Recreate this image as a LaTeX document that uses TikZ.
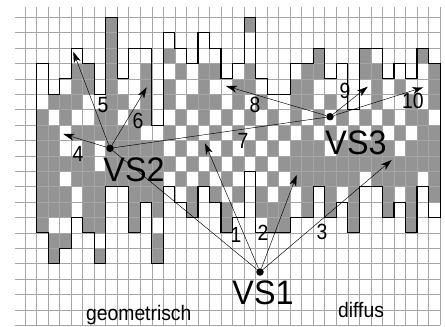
\documentclass[tikz,border=0pt]{standalone}
\usepackage{fontspec}
\setmainfont{Liberation Sans}
\usetikzlibrary{arrows.meta}
\begin{document}
\begin{tikzpicture}[x=1pt,y=-1pt,
  gridline/.style={draw=black!35, line width=0.6pt},
  outline/.style={draw=black, line width=1.1pt, line join=miter},
  cellfill/.style={fill=black!42},
  ray/.style={draw=black, line width=0.45pt, -{Stealth[length=11pt,width=7pt,inset=3pt]}},
  plainray/.style={draw=black, line width=0.45pt},
  src/.style={circle, fill=black, inner sep=0pt, minimum size=7.5pt},
  num/.style={font=\fontsize{22}{22}\selectfont, inner sep=0pt, xscale=0.88},
  vslabel/.style={font=\fontsize{34}{34}\selectfont, inner sep=0pt, xscale=0.95},
  word/.style={font=\fontsize{21}{21}\selectfont, inner sep=0pt, xscale=0.92}]
\useasboundingbox (0,0) rectangle (445,327);
\fill[white] (0,0) rectangle (445,327);
\begin{scope}[shift={(25pt,-17.3pt)}, x=11.53pt, y=-15.4pt]
  \foreach \r/\cs in {
    0/{7,19},
    1/{7},
    2/{7,12,25,29,34},
    3/{4,5,7,10,13,15,16,19,24,25,29,30,35},
    4/{4,5,7,10,12,15,18,19,23,24,30,32,35},
    5/{2,3,4,7,8,10,12,14,15,16,18,20,23,24,26,30,33,35},
    6/{1,3,6,7,9,10,13,15,17,19,21,23,25,27,29,31,33,34},
    7/{1,2,4,5,6,7,8,9,12,14,16,18,20,22,24,26,28,30,32,34,35},
    8/{1,2,5,7,8,9,10,11,13,15,17,19,21,23,24,25,27,28,29,30,31,33,34,35},
    9/{1,2,3,4,5,7,8,9,10,11,12,14,16,18,20,22,23,24,25,26,27,28,29,30,31,32,33,34,35},
    10/{1,2,4,5,6,7,8,9,10,11,13,15,17,21,23,24,25,26,27,28,30,31,32,33,35},
    11/{1,2,3,5,6,9,10,11,14,16,18,20,22,24,26,28,31,33,35},
    12/{1,2,3,5,6,9,11,14,17,20,21,22,24,26,28,31,33},
    13/{1,5,6,9,17,21,22,28,33},
    14/{2,3,11},
    15/{2,6,11}}
  { \foreach \c in \cs { \fill[cellfill] (\c,\r) rectangle ++(1,1); } }
  \foreach \k in {0,...,36} \draw[gridline] (\k,-0.67) -- (\k,20);
  \foreach \h in {0,...,20} \draw[gridline] (-0.87,\h) -- (36,\h);
  \draw[outline] (1,3) -| (2,5) -| (3,4) -| (4,2) -| (5,3) -| (6,5) -| (7,0) -| (8,4)
    -| (9,2) -| (10,2) -| (11,7) -| (12,1) -| (13,2) -| (14,3) -| (15,1) -| (16,2)
    -| (17,4) -| (18,3) -| (19,0) -| (20,4) -| (21,5) -| (22,5) -| (23,3) -| (24,3)
    -| (25,2) -| (26,4) -| (27,3) -| (28,6) -| (29,2) -| (30,2) -| (31,4) -| (32,3)
    -| (33,4) -| (34,2) -| (35,3) -- (36,3) -- (36,13)
    -| (35,11) -| (34,14) -| (33,12) -| (32,13) -| (31,11) -| (30,11) -| (29,14)
    -| (28,12) -| (27,13) -| (26,11) -| (25,13) -| (24,13) -| (23,14) -| (22,14)
    -| (21,14) -| (20,10) -| (19,13) -| (18,14) -| (17,12) -| (16,11) -| (15,13)
    -| (14,12) -| (13,11) -| (12,16) -| (11,12) -| (10,14) -| (9,11) -| (8,11)
    -| (7,16) -| (6,14) -| (5,13) -| (4,15) -| (3,16) -| (2,14) -- (1,14) -- cycle;
\end{scope}
% sources
\node[src] (vs1) at (260,272) {};
\node[src] (vs2) at (110,148.3) {};
\node[src] (vs3) at (330,116.7) {};
% arrow targets
\coordinate (t1) at (205,143.3);
\coordinate (t2) at (296.7,175);
\coordinate (t3) at (391.7,160);
\coordinate (t4) at (63.3,134);
\coordinate (t5) at (73.3,51.7);
\coordinate (t6) at (146.7,87.3);
\coordinate (t8) at (226,86);
\coordinate (t9) at (367.7,86.7);
\coordinate (t10) at (423.3,87.3);
\draw[plainray] (vs1) -- (vs2);
\draw[plainray] (vs2) -- (vs3);
\draw[ray] (vs1) -- (t1);
\draw[ray] (vs1) -- (t2);
\draw[ray] (vs1) -- (t3);
\draw[ray] (vs2) -- (t4);
\draw[ray] (vs2) -- (t5);
\draw[ray] (vs2) -- (t6);
\draw[ray] (vs3) -- (t8);
\draw[ray] (vs3) -- (t9);
\draw[ray] (vs3) -- (t10);
% labels
\node[vslabel] (lvs1) at (263,292.5) {VS1};
\node[vslabel] (lvs2) at (134,170) {VS2};
\node[vslabel] (lvs3) at (356,142.5) {VS3};
\node[num] (n1) at (236,235) {1};
\node[num] (n2) at (263,233) {2};
\node[num] (n3) at (322,232) {3};
\node[num] (n4) at (78,154) {4};
\node[num] (n5) at (103,105) {5};
\node[num] (n6) at (138,121) {6};
\node[num] (n7) at (243,141) {7};
\node[num] (n8) at (255,105) {8};
\node[num] (n9) at (345,91) {9};
\node[num] (n10) at (413,101) {10};
\node[word, anchor=base west] (geo) at (86,320) {geometrisch};
\node[word, anchor=base west] (dif) at (338,317) {diffus};
\end{tikzpicture}
\end{document}
